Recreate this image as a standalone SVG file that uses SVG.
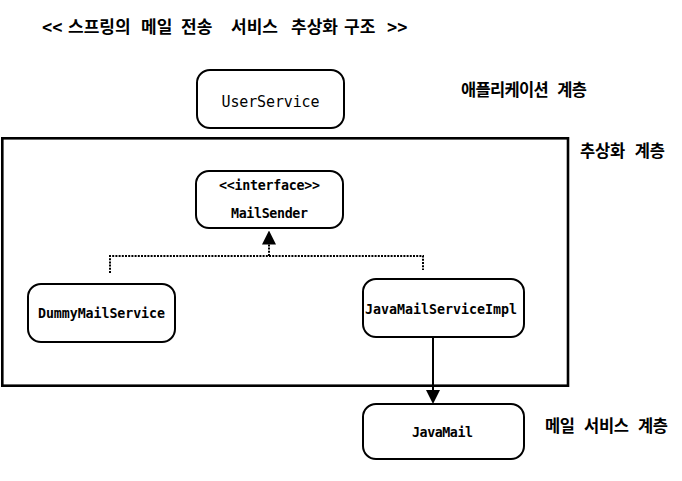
<svg xmlns="http://www.w3.org/2000/svg" width="682" height="481" viewBox="0 0 682 481">
<style>
.box{fill:#fff;stroke:#000;stroke-width:2}
.frame{fill:none;stroke:#000;stroke-width:2.6}
.t{font-family:'DejaVu Sans Mono','Liberation Mono',monospace;font-size:13.3px;font-weight:bold;text-anchor:middle;fill:#000}
.k{font-family:'DejaVu Sans Mono','Noto Sans CJK KR',monospace;font-size:16.5px;font-weight:bold;fill:#000}
.dot{fill:none;stroke:#000;stroke-width:2;stroke-dasharray:2 1.2}
.solid{fill:none;stroke:#000;stroke-width:2}
</style>
<defs>
<marker id="tri" viewBox="0 0 14 14" refX="0" refY="7" markerWidth="14" markerHeight="14" markerUnits="userSpaceOnUse" orient="auto">
<path d="M0,0 L14,7 L0,14 Z" fill="#000"/>
</marker>
</defs>
<rect width="682" height="481" fill="#fff"/>
<text class="k" y="33" style="font-size:17px"><tspan x="42">&lt;&lt;</tspan> <tspan x="68">스프링의</tspan> <tspan x="141">메일</tspan> <tspan x="181">전송</tspan> <tspan x="231">서비스</tspan> <tspan x="291">추상화</tspan> <tspan x="344">구조</tspan> <tspan x="387">&gt;&gt;</tspan></text>
<g id="layer-abstraction">
<rect class="frame" x="2.3" y="138.3" width="565.7" height="247.4"/>
<text class="k" x="580" y="157" textLength="85" lengthAdjust="spacing">추상화 계층</text>
</g>
<text class="k" x="461" y="96" textLength="126" lengthAdjust="spacing">애플리케이션 계층</text>
<text class="k" x="545" y="432" textLength="123" lengthAdjust="spacing">메일 서비스 계층</text>
<g id="connectors">
<path class="dot" d="M110,273 V256 H423 V270"/>
<path class="dot" d="M269,256 V244.5" marker-end="url(#tri)"/>
<path class="solid" d="M433,337 V390" marker-end="url(#tri)"/>
</g>
<g id="UserService">
<rect class="box" x="197" y="70" width="147" height="58" rx="13"/>
<text class="t" x="270.5" y="107" style="font-size:15px;font-weight:normal" textLength="98" lengthAdjust="spacing">UserService</text>
</g>
<g id="MailSender">
<rect class="box" x="196" y="171" width="147" height="57" rx="13"/>
<text class="t" x="269.5" y="190" textLength="101" lengthAdjust="spacing">&lt;&lt;interface&gt;&gt;</text>
<text class="t" x="269.5" y="218" textLength="77" lengthAdjust="spacing">MailSender</text>
</g>
<g id="DummyMailService">
<rect class="box" x="28" y="284" width="147" height="58" rx="13"/>
<text class="t" x="101.5" y="318" textLength="127" lengthAdjust="spacing">DummyMailService</text>
</g>
<g id="JavaMailServiceImpl">
<rect class="box" x="363" y="279" width="161" height="58" rx="13"/>
<text class="t" x="441" y="314" textLength="152" lengthAdjust="spacing">JavaMailServiceImpl</text>
</g>
<g id="JavaMail">
<rect class="box" x="363" y="404" width="161" height="55" rx="13"/>
<text class="t" x="442.5" y="437" textLength="61" lengthAdjust="spacing">JavaMail</text>
</g>
</svg>
